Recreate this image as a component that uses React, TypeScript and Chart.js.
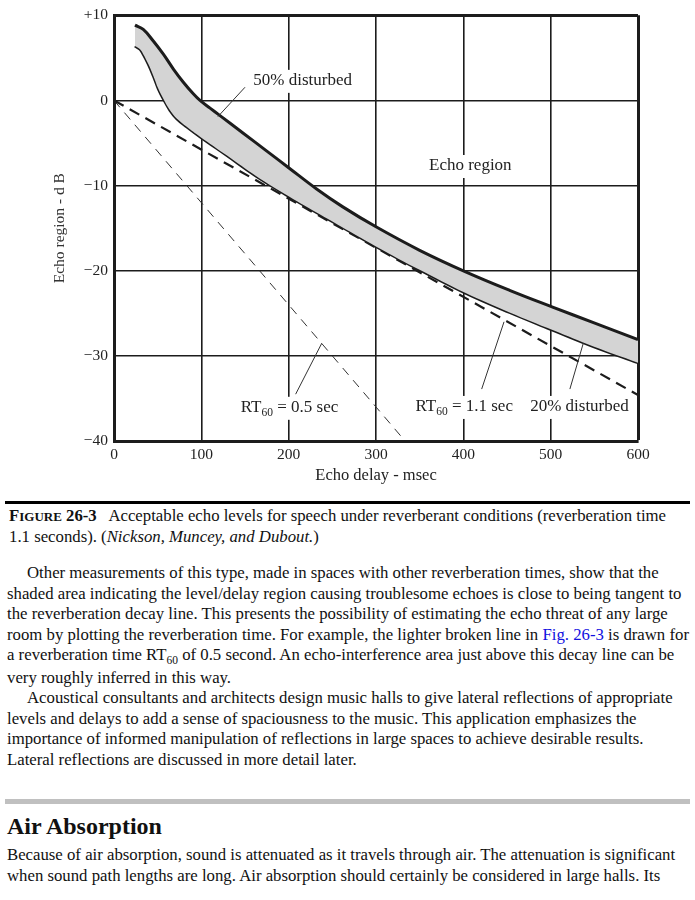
import React, { useEffect, useRef } from "react";
import { Chart, registerables } from "chart.js";

Chart.register(...registerables);

// ---------- data ----------
const upperDelay = [24, 33.5, 45, 56.5, 68, 79.4, 90.8, 98.5, 110, 121, 148, 175, 200, 232, 262, 301, 350, 402, 453, 503, 549, 600];
const disturbed50 = [8.84, 8.34, 6.98, 5.43, 3.69, 2.14, 0.78, 0.0, -0.9, -1.75, -3.85, -5.95, -7.9, -10.4, -12.5, -14.9, -17.6, -20.1, -22.3, -24.3, -26.1, -28.1];
const lowerDelay = [24, 29.8, 33.5, 39.3, 45, 50.8, 56.5, 64.1, 71.8, 83.3, 98.5, 129, 163, 200, 236, 270, 301, 350, 402, 453, 503, 549, 600];
const disturbed20 = [6.4, 6.01, 5.43, 4.27, 2.91, 1.36, 0.2, -1.16, -2.13, -3.1, -4.26, -6.45, -8.9, -11.25, -13.4, -15.4, -17.2, -19.9, -22.6, -24.9, -27.0, -28.9, -30.8];

const rt11X = [0, 600];
const rt11Y = [0, -34.6];
const rt05X = [0, 333.3];
const rt05Y = [0, -40];

const yTickValues = [10, 0, -10, -20, -30, -40];
const yTickLabels = ["+10", "0", "\u221210", "\u221220", "\u221230", "\u221240"];
const xTickValues = [0, 100, 200, 300, 400, 500, 600];
const xTickLabels = ["0", "100", "200", "300", "400", "500", "600"];

const xTitle = "Echo delay - msec";
const yTitle = "Echo region - d B";

const labelTexts = ["50% disturbed", "Echo region", "RT60 = 0.5 sec", "RT60 = 1.1 sec", "20% disturbed"];
const labelX = [216, 408, 201, 401, 533];
const labelY = [2.3, -7.7, -36.1, -36.0, -36.0];

const pointerX1 = [150, 208, 421, 522];
const pointerY1 = [1.55, -34.5, -33.9, -33.9];
const pointerX2 = [119, 238, 446.6, 537.4];
const pointerY2 = [-1.9, -28.5, -26.0, -28.5];

const FONT = '"Liberation Serif", "Times New Roman", serif';
const INK = "#1c1c1c";

const pts = (xs: number[], ys: number[]) => xs.map((x, i) => ({ x, y: ys[i] }));

const annotationPlugin = {
  id: "figureLabels",
  afterDatasetsDraw(chart: any) {
    const { ctx } = chart;
    const xs = chart.scales.x;
    const ys = chart.scales.y;
    ctx.save();
    // pointer lines
    ctx.strokeStyle = "#333";
    ctx.lineWidth = 1;
    ctx.setLineDash([]);
    for (let i = 0; i < pointerX1.length; i++) {
      ctx.beginPath();
      ctx.moveTo(xs.getPixelForValue(pointerX1[i]), ys.getPixelForValue(pointerY1[i]));
      ctx.lineTo(xs.getPixelForValue(pointerX2[i]), ys.getPixelForValue(pointerY2[i]));
      ctx.stroke();
    }
    const mainFont = `17px ${FONT}`;
    const subFont = `11.5px ${FONT}`;
    for (let i = 0; i < labelTexts.length; i++) {
      const text = labelTexts[i];
      const m = text.match(/^RT60(.*)$/);
      const parts: { t: string; sub: boolean }[] = m
        ? [{ t: "RT", sub: false }, { t: "60", sub: true }, { t: m[1], sub: false }]
        : [{ t: text, sub: false }];
      let w = 0;
      parts.forEach((p) => {
        ctx.font = p.sub ? subFont : mainFont;
        w += ctx.measureText(p.t).width;
      });
      const cx = xs.getPixelForValue(labelX[i]);
      const cy = ys.getPixelForValue(labelY[i]);
      ctx.fillStyle = "#fff";
      ctx.fillRect(cx - w / 2 - 3, cy - 11, w + 6, 23);
      let x0 = cx - w / 2;
      ctx.fillStyle = "#222";
      ctx.textBaseline = "middle";
      ctx.textAlign = "left";
      parts.forEach((p) => {
        ctx.font = p.sub ? subFont : mainFont;
        ctx.fillText(p.t, x0, p.sub ? cy + 5 : cy);
        x0 += ctx.measureText(p.t).width;
      });
    }
    ctx.restore();
  },
};

export default function App() {
  const canvasRef = useRef<HTMLCanvasElement>(null);

  useEffect(() => {
    document.body.style.margin = "0";
    const canvas = canvasRef.current!;
    const chart = new Chart(canvas, {
      type: "line",
      data: {
        datasets: [
          {
            label: "50% disturbed",
            data: pts(upperDelay, disturbed50),
            borderColor: INK,
            borderWidth: 3,
            backgroundColor: "#d4d4d4",
            fill: "+1",
            pointRadius: 0,
            tension: 0.4,
          },
          {
            label: "20% disturbed",
            data: pts(lowerDelay, disturbed20),
            borderColor: INK,
            borderWidth: 3,
            fill: false,
            pointRadius: 0,
            tension: 0.4,
          },
          {
            label: "RT60 = 1.1 sec",
            data: pts(rt11X, rt11Y),
            borderColor: INK,
            borderWidth: 2.2,
            borderDash: [11, 7],
            fill: false,
            pointRadius: 0,
          },
          {
            label: "RT60 = 0.5 sec",
            data: pts(rt05X, rt05Y),
            borderColor: "#333",
            borderWidth: 1,
            borderDash: [9, 7],
            fill: false,
            pointRadius: 0,
          },
        ],
      },
      options: {
        responsive: false,
        animation: false,
        devicePixelRatio: 1,
        layout: { padding: { left: 0, top: 11, right: 57, bottom: 0 } },
        plugins: { legend: { display: false }, tooltip: { enabled: false } },
        scales: {
          x: {
            type: "linear",
            min: 0,
            max: 600,
            afterFit: (s: any) => {
              s.height = 49;
            },
            afterBuildTicks: (s: any) => {
              s.ticks = xTickValues.map((v) => ({ value: v }));
            },
            ticks: {
              padding: 5,
              color: "#222",
              font: { family: FONT, size: 15.5 },
              callback: (v: any) => xTickLabels[xTickValues.indexOf(Number(v))] ?? "",
            },
            grid: {
              color: INK,
              lineWidth: (c: any) => (c.tick && c.tick.value === 600 ? 3 : 1.6),
              drawTicks: false,
            },
            border: { color: INK, width: 3 },
            title: {
              display: true,
              text: xTitle,
              color: "#222",
              font: { family: FONT, size: 16.5 },
              padding: { top: 0, bottom: 4 },
            },
          },
          y: {
            type: "linear",
            min: -40,
            max: 10,
            afterFit: (s: any) => {
              s.width = 114;
            },
            afterBuildTicks: (s: any) => {
              s.ticks = yTickValues.slice().reverse().map((v) => ({ value: v }));
            },
            ticks: {
              padding: 6,
              color: "#222",
              font: { family: FONT, size: 15.5 },
              callback: (v: any) => yTickLabels[yTickValues.indexOf(Number(v))] ?? "",
            },
            grid: {
              color: INK,
              lineWidth: (c: any) => (c.tick && c.tick.value === 10 ? 3 : 1.6),
              drawTicks: false,
            },
            border: { color: INK, width: 3 },
            title: {
              display: true,
              text: yTitle,
              color: "#333",
              font: { family: FONT, size: 15.5 },
              padding: { top: 51, bottom: 0 },
            },
          },
        },
      },
      plugins: [annotationPlugin],
    } as any);
    return () => chart.destroy();
  }, []);

  const line: React.CSSProperties = { whiteSpace: "nowrap", height: 20.5, lineHeight: "20.5px" };

  return (
    <div
      style={{
        position: "relative",
        width: 695,
        height: 900,
        background: "#fff",
        fontFamily: FONT,
        fontSize: 16.75,
        color: "#111",
        overflow: "hidden",
      }}
    >
      <canvas ref={canvasRef} width={695} height={490} style={{ position: "absolute", left: 0, top: 0, width: 695, height: 490 }} />

      <div style={{ position: "absolute", left: 5, top: 501, width: 685, height: 3, background: "#000" }} />

      <div style={{ position: "absolute", left: 9, top: 506 }}>
        <div style={line}>
          <b>
            F<span style={{ fontSize: 13 }}>IGURE</span> 26-3
          </b>
          {"\u00a0\u00a0 "}Acceptable echo levels for speech under reverberant conditions (reverberation time
        </div>
        <div style={line}>
          1.1 seconds). (<i>Nickson, Muncey, and Dubout.</i>)
        </div>
      </div>

      <div style={{ position: "absolute", left: 7, top: 563 }}>
        <div style={line}>
          <span style={{ display: "inline-block", width: 20 }} />
          Other measurements of this type, made in spaces with other reverberation times, show that the
        </div>
        <div style={line}>shaded area indicating the level/delay region causing troublesome echoes is close to being tangent to</div>
        <div style={line}>the reverberation decay line. This presents the possibility of estimating the echo threat of any large</div>
        <div style={line}>
          room by plotting the reverberation time. For example, the lighter broken line in{" "}
          <span style={{ color: "#1010e0" }}>Fig. 26-3</span> is drawn for
        </div>
        <div style={{ ...line, height: 22.5 }}>
          a reverberation time RT<sub style={{ fontSize: 11.5, lineHeight: 0 }}>60</sub> of 0.5 second. An echo-interference area just above this decay line can be
        </div>
        <div style={line}>very roughly inferred in this way.</div>
        <div style={line}>
          <span style={{ display: "inline-block", width: 20 }} />
          Acoustical consultants and architects design music halls to give lateral reflections of appropriate
        </div>
        <div style={line}>levels and delays to add a sense of spaciousness to the music. This application emphasizes the</div>
        <div style={line}>importance of informed manipulation of reflections in large spaces to achieve desirable results.</div>
        <div style={line}>Lateral reflections are discussed in more detail later.</div>
      </div>

      <div style={{ position: "absolute", left: 5, top: 799, width: 685, height: 5, background: "#c0c0c0" }} />

      <div style={{ position: "absolute", left: 7, top: 811, fontSize: 24, fontWeight: "bold", lineHeight: "30px", whiteSpace: "nowrap" }}>
        Air Absorption
      </div>

      <div style={{ position: "absolute", left: 7, top: 845 }}>
        <div style={line}>Because of air absorption, sound is attenuated as it travels through air. The attenuation is significant</div>
        <div style={line}>when sound path lengths are long. Air absorption should certainly be considered in large halls. Its</div>
      </div>
    </div>
  );
}
